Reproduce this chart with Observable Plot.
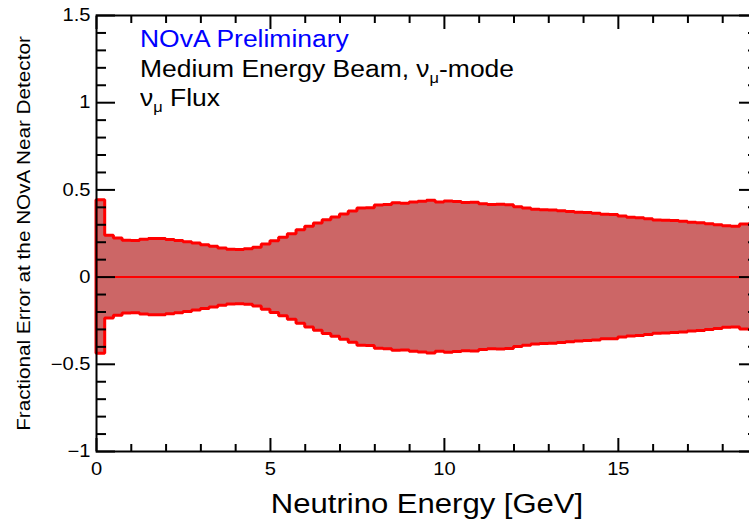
<!DOCTYPE html>
<html><head><meta charset="utf-8">
<script src="https://cdn.jsdelivr.net/npm/d3@7"></script>
<script src="https://cdn.jsdelivr.net/npm/@observablehq/plot@0.6"></script>
<style>
html,body{margin:0;padding:0;background:#fff;overflow:hidden;width:749px;height:526px}
#wrap{position:relative;width:760px;height:526px}
.note{position:absolute;left:140px;font-family:"Liberation Sans",Arial,sans-serif;white-space:nowrap;line-height:1;transform:scaleX(1.15);transform-origin:0 0;color:#000}
.note sub{font-size:0.62em;vertical-align:-0.42em;line-height:0}
</style></head><body><div id="wrap"></div>
<script>
// Bin lower edges (GeV), bin width 0.25 GeV
const binWidth = 0.25;
const binLowEdges = [0,0.25,0.5,0.75,1,1.25,1.5,1.75,2,2.25,2.5,2.75,3,3.25,3.5,3.75,4,4.25,4.5,4.75,
  5,5.25,5.5,5.75,6,6.25,6.5,6.75,7,7.25,7.5,7.75,8,8.25,8.5,8.75,9,9.25,9.5,9.75,
  10,10.25,10.5,10.75,11,11.25,11.5,11.75,12,12.25,12.5,12.75,13,13.25,13.5,13.75,14,14.25,14.5,14.75,
  15,15.25,15.5,15.75,16,16.25,16.5,16.75,17,17.25,17.5,17.75,18,18.25,18.5,18.75];
// Fractional flux error (band is +/- this value)
const fracError = [0.44,0.237,0.222,0.208,0.207,0.214,0.219,0.219,0.213,0.207,0.200,0.192,0.183,0.174,0.164,0.157,0.155,0.159,0.168,0.187,
  0.206,0.225,0.245,0.268,0.289,0.307,0.326,0.342,0.359,0.376,0.393,0.395,0.411,0.413,0.423,0.421,0.428,0.432,0.438,0.428,
  0.434,0.430,0.425,0.426,0.418,0.413,0.415,0.412,0.401,0.393,0.386,0.384,0.382,0.378,0.373,0.369,0.367,0.363,0.357,0.356,
  0.347,0.341,0.338,0.332,0.325,0.323,0.321,0.318,0.312,0.309,0.303,0.298,0.291,0.289,0.301,0.303];

const xMajorTicks = [0,5,10,15];
const xTickLabels = ["0","5","10","15"];
const xMinorTicks = [1,2,3,4,6,7,8,9,11,12,13,14,16,17,18];
const yMajorTicks = [-1,-0.5,0,0.5,1,1.5];
const yTickLabels = ["\u22121","\u22120.5","0","0.5","1","1.5"];
const yMinorTicks = [-0.9,-0.8,-0.7,-0.6,-0.4,-0.3,-0.2,-0.1,0.1,0.2,0.3,0.4,0.6,0.7,0.8,0.9,1.1,1.2,1.3,1.4];

const xTitle = "Neutrino Energy [GeV]";
const yTitle = "Fractional Error at the NOvA Near Detector";

// band table (closing edge repeats the last bin value for step-after)
const band = binLowEdges.map((e, i) => ({x: e, hi: fracError[i], lo: -fracError[i]}));
band.push({x: binLowEdges[binLowEdges.length - 1] + binWidth, hi: fracError[fracError.length - 1], lo: -fracError[fracError.length - 1]});

const font = '"Liberation Sans", Arial, sans-serif';
const plot = Plot.plot({
  width: 760, height: 526,
  marginLeft: 96, marginRight: 3, marginTop: 15, marginBottom: 75,
  x: {domain: [0, 19]},
  y: {domain: [-1, 1.5]},
  style: {fontFamily: font, color: "black", background: "white", overflow: "visible"},
  marks: [
    Plot.areaY(band, {x: "x", y1: "lo", y2: "hi", curve: "step-after", fill: "#cc6666", stroke: "#ff0000", strokeWidth: 3, strokeLinejoin: "miter"}),
    Plot.ruleY([0], {stroke: "#ff0000", strokeWidth: 2}),
    Plot.frame({stroke: "black", strokeWidth: 2}),
    Plot.axisX(xMajorTicks, {anchor: "bottom", tickSize: -13, fill: "none", strokeWidth: 2, label: null}),
    Plot.axisX(xMinorTicks, {anchor: "bottom", tickSize: -7, fill: "none", strokeWidth: 2, label: null}),
    Plot.axisX(xMajorTicks, {anchor: "top", tickSize: -13, fill: "none", strokeWidth: 2, label: null}),
    Plot.axisX(xMinorTicks, {anchor: "top", tickSize: -7, fill: "none", strokeWidth: 2, label: null}),
    Plot.axisY(yMajorTicks, {anchor: "left", tickSize: -19, fill: "none", strokeWidth: 2, label: null}),
    Plot.axisY(yMinorTicks, {anchor: "left", tickSize: -10, fill: "none", strokeWidth: 2, label: null}),
    Plot.axisY(yMajorTicks, {anchor: "right", tickSize: -19, fill: "none", strokeWidth: 2, label: null}),
    Plot.axisY(yMinorTicks, {anchor: "right", tickSize: -10, fill: "none", strokeWidth: 2, label: null}),
    Plot.axisX(xMajorTicks, {anchor: "bottom", tickSize: 0, tickPadding: 11, fontSize: 17.5, label: null,
      tickFormat: d => xTickLabels[xMajorTicks.indexOf(d)]}),
    Plot.axisY(yMajorTicks, {anchor: "left", tickSize: 0, tickPadding: 6, fontSize: 17.5, label: null,
      tickFormat: d => yTickLabels[yMajorTicks.indexOf(d)]}),
    Plot.text([xTitle], {frameAnchor: "bottom", dy: 53, fontSize: 27, lineAnchor: "middle", textAnchor: "middle"}),
    Plot.text([yTitle], {frameAnchor: "left", dx: -72, rotate: -90, fontSize: 18, lineAnchor: "middle", textAnchor: "middle"})
  ]
});
const wrap = document.getElementById("wrap");
wrap.append(plot);
plot.querySelectorAll("text").forEach(t => {
  const w = t.getComputedTextLength();
  if (w > 0) { t.setAttribute("textLength", (w * 1.15).toFixed(2)); t.setAttribute("lengthAdjust", "spacingAndGlyphs"); }
});

const notes = [
  {html: "NOvA Preliminary", top: 27.5, size: 23, color: "#0000ff"},
  {html: "Medium Energy Beam, \u03bd<sub>\u03bc</sub>-mode", top: 58, size: 23, color: "#000"},
  {html: "\u03bd<sub>\u03bc</sub> Flux", top: 87, size: 23, color: "#000"}
];
for (const n of notes) {
  const d = document.createElement("div");
  d.className = "note";
  d.style.top = n.top + "px";
  d.style.fontSize = n.size + "px";
  d.style.color = n.color;
  d.innerHTML = n.html;
  wrap.append(d);
}
</script></body></html>
